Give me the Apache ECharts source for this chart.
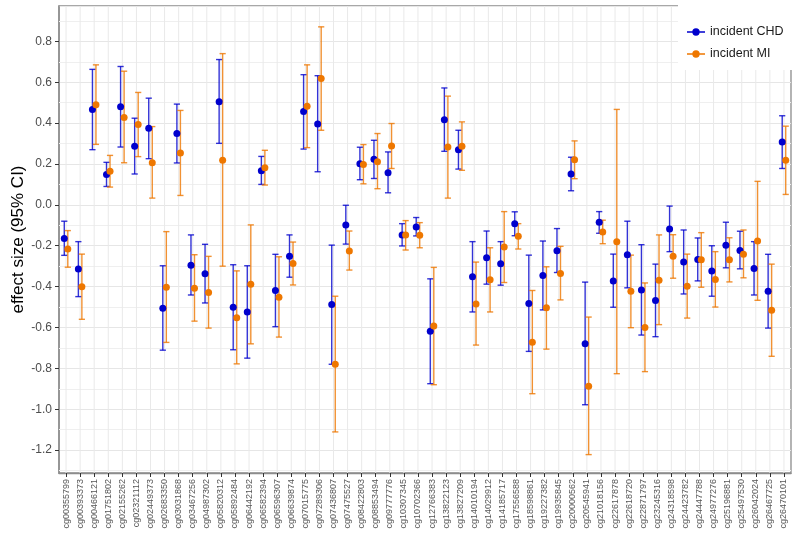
<!DOCTYPE html>
<html>
<head>
<meta charset="utf-8">
<script src="https://cdn.jsdelivr.net/npm/echarts@6/dist/echarts.min.js"></script>
<style>html,body{margin:0;padding:0;background:#fff}#c{width:800px;height:537px}</style>
</head>
<body>
<div id="c"></div>
<script>
const categories = ["cg00355799","cg00393373","cg00466121","cg01751802","cg02155262","cg02321112","cg02449373","cg02683350","cg03031868","cg03467256","cg04987302","cg05820312","cg05892484","cg06442192","cg06582394","cg06596307","cg06639874","cg07015775","cg07289306","cg07436807","cg07475527","cg08422803","cg08853494","cg09777776","cg10307345","cg10702366","cg12766383","cg13822123","cg13827209","cg14010194","cg14029912","cg14185717","cg17556588","cg18598861","cg19227382","cg19935845","cg20000562","cg20545941","cg21018156","cg22617878","cg22618720","cg22871797","cg23245316","cg24318598","cg24423782","cg24447788","cg24977276","cg25196881","cg25497530","cg26042024","cg26467725","cg26470101"];

const chdEst = [-0.165,-0.314,0.467,0.149,0.480,0.287,0.375,-0.506,0.349,-0.295,-0.337,0.505,-0.501,-0.524,0.167,-0.419,-0.251,0.457,0.396,-0.487,-0.098,0.201,0.223,0.157,-0.147,-0.108,-0.619,0.416,0.270,-0.352,-0.259,-0.288,-0.093,-0.483,-0.346,-0.224,0.151,-0.680,-0.085,-0.372,-0.244,-0.416,-0.468,-0.118,-0.280,-0.267,-0.324,-0.198,-0.223,-0.311,-0.423,0.308];
const chdLo  = [-0.247,-0.449,0.270,0.090,0.283,0.151,0.226,-0.711,0.205,-0.441,-0.480,0.301,-0.709,-0.750,0.100,-0.596,-0.354,0.273,0.162,-0.780,-0.192,0.123,0.129,0.059,-0.201,-0.152,-0.875,0.262,0.175,-0.524,-0.388,-0.393,-0.151,-0.717,-0.514,-0.331,0.069,-0.978,-0.139,-0.501,-0.406,-0.637,-0.645,-0.229,-0.436,-0.372,-0.447,-0.308,-0.313,-0.441,-0.603,0.178];
const chdHi  = [-0.080,-0.180,0.663,0.208,0.677,0.424,0.522,-0.298,0.493,-0.147,-0.193,0.711,-0.293,-0.298,0.237,-0.242,-0.147,0.637,0.632,-0.197,-0.002,0.282,0.316,0.259,-0.092,-0.062,-0.362,0.572,0.365,-0.180,-0.128,-0.180,-0.034,-0.246,-0.177,-0.116,0.233,-0.378,-0.033,-0.241,-0.080,-0.195,-0.290,-0.006,-0.123,-0.162,-0.200,-0.085,-0.129,-0.180,-0.242,0.436];

const miEst = [-0.216,-0.401,0.490,0.165,0.428,0.393,0.206,-0.403,0.254,-0.408,-0.429,0.218,-0.552,-0.388,0.182,-0.452,-0.287,0.482,0.618,-0.780,-0.226,0.198,0.211,0.288,-0.147,-0.149,-0.593,0.283,0.287,-0.485,-0.367,-0.206,-0.154,-0.672,-0.503,-0.336,0.221,-0.888,-0.133,-0.180,-0.423,-0.600,-0.369,-0.252,-0.398,-0.269,-0.365,-0.269,-0.242,-0.177,-0.516,0.218];
const miLo  = [-0.305,-0.560,0.296,0.087,0.206,0.236,0.033,-0.673,0.046,-0.569,-0.603,-0.300,-0.778,-0.680,0.097,-0.647,-0.392,0.280,0.365,-1.111,-0.319,0.103,0.079,0.178,-0.221,-0.210,-0.880,0.033,0.169,-0.686,-0.524,-0.380,-0.216,-0.924,-0.706,-0.465,0.128,-1.222,-0.190,-0.826,-0.601,-0.816,-0.586,-0.359,-0.554,-0.403,-0.500,-0.377,-0.357,-0.467,-0.741,0.051];
const miHi  = [-0.126,-0.241,0.685,0.242,0.654,0.550,0.383,-0.131,0.462,-0.244,-0.252,0.740,-0.323,-0.098,0.267,-0.254,-0.182,0.685,0.871,-0.447,-0.128,0.295,0.349,0.398,-0.077,-0.087,-0.306,0.532,0.406,-0.280,-0.210,-0.033,-0.092,-0.419,-0.303,-0.203,0.313,-0.549,-0.075,0.467,-0.246,-0.382,-0.147,-0.146,-0.241,-0.136,-0.229,-0.161,-0.123,0.115,-0.290,0.385];

const yMinorTicks = [-1.3,-1.1,-0.9,-0.7,-0.5,-0.3,-0.1,0.1,0.3,0.5,0.7,0.9];

const CHD = 'incident CHD', MI = 'incident MI';
const BLUE = '#0000CD', ORANGE = '#EE7700';
const FONT = '"Liberation Sans", Arial, sans-serif';

function barRenderer(offsetFrac, color) {
  return function (params, api) {
    const i = api.value(0);
    const bw = api.size([1, 0])[0];
    const top = api.coord([i, api.value(2)]);
    const bot = api.coord([i, api.value(1)]);
    const x = top[0] + bw * offsetFrac;
    const cw = bw * 0.22;
    const st = {stroke: color, lineWidth: 1.4, opacity: 0.8};
    return {type: 'group', children: [
      {type: 'line', shape: {x1: x, y1: top[1], x2: x, y2: bot[1]}, style: st},
      {type: 'line', shape: {x1: x - cw, y1: top[1], x2: x + cw, y2: top[1]}, style: st},
      {type: 'line', shape: {x1: x - cw, y1: bot[1], x2: x + cw, y2: bot[1]}, style: st}
    ]};
  };
}
function pointRenderer(offsetFrac, color) {
  return function (params, api) {
    const i = api.value(0);
    const bw = api.size([1, 0])[0];
    const p = api.coord([i, api.value(1)]);
    return {type: 'circle', shape: {cx: p[0] + bw * offsetFrac, cy: p[1], r: 3.5}, style: {fill: color}};
  };
}
function vGridRenderer(params, api) {
  const cs = params.coordSys;
  const x = api.coord([api.value(0), 0])[0];
  return {type: 'line', shape: {x1: x, y1: cs.y, x2: x, y2: cs.y + cs.height}, style: {stroke: '#e9e9e9', lineWidth: 1}};
}

const chdBars = categories.map((c, i) => [i, chdLo[i], chdHi[i]]);
const miBars = categories.map((c, i) => [i, miLo[i], miHi[i]]);
const chdPts = categories.map((c, i) => [i, chdEst[i]]);
const miPts = categories.map((c, i) => [i, miEst[i]]);
const gridCols = categories.map((c, i) => [i, 0]);

const legendIcon = 'path://M0 4.2 L22 4.2 L22 5.8 L0 5.8 Z M15.5 5 A4.5 4.5 0 1 1 6.5 5 A4.5 4.5 0 1 1 15.5 5 Z';

const chart = echarts.init(document.getElementById('c'), null, {renderer: 'canvas'});
chart.setOption({
  animation: false,
  backgroundColor: '#ffffff',
  textStyle: {fontFamily: FONT},
  grid: {left: 59, right: 9, top: 6, bottom: 64, containLabel: false, outerBoundsMode: 'none',
         show: true, borderColor: '#8c8c8c', borderWidth: 1.3, backgroundColor: 'transparent'},
  legend: {
    left: 678, top: 5, orient: 'vertical',
    padding: [20, 12, 9, 9],
    itemGap: 8, itemWidth: 18, itemHeight: 9,
    backgroundColor: '#ffffff',
    textStyle: {fontFamily: FONT, fontSize: 12.5, color: '#1a1a1a', lineHeight: 14},
    data: [
      {name: CHD, icon: legendIcon, itemStyle: {color: BLUE}},
      {name: MI, icon: legendIcon, itemStyle: {color: ORANGE}}
    ]
  },
  xAxis: {
    type: 'category', data: categories, boundaryGap: true,
    axisLine: {show: true, onZero: false, lineStyle: {color: '#8c8c8c', width: 1.3}},
    axisTick: {show: true, alignWithLabel: true, length: 4, lineStyle: {color: '#333'}},
    axisLabel: {rotate: 90, interval: 0, fontSize: 9, color: '#555', margin: 6, fontFamily: FONT},
    splitLine: {show: false}
  },
  yAxis: {
    type: 'value', min: -1.312, max: 0.973, splitNumber: 11,
    name: 'effect size (95% CI)', nameLocation: 'middle', nameGap: 32, nameMoveOverlap: false,
    nameTextStyle: {fontSize: 17, color: '#000', fontFamily: FONT},
    axisLine: {show: true, lineStyle: {color: '#8c8c8c', width: 1.5}},
    axisTick: {show: true, length: 4, lineStyle: {color: '#333'}},
    axisLabel: {
      fontSize: 12, color: '#4d4d4d', margin: 7, fontFamily: FONT,
      showMinLabel: false, showMaxLabel: false,
      formatter: v => Math.abs(v * 5 - Math.round(v * 5)) < 1e-6 ? v.toFixed(1) : ''
    },
    splitLine: {show: true, lineStyle: {color: '#e6e6e6', width: 1}}
  },
  series: [
    {
      type: 'custom', data: gridCols, renderItem: vGridRenderer, encode: {x: 0, y: 1}, silent: true, z: 1,
      markLine: {
        silent: true, symbol: 'none', z: 1, animation: false,
        label: {show: false},
        lineStyle: {color: '#efefef', width: 1, type: 'solid'},
        data: yMinorTicks.map(v => ({yAxis: v}))
      }
    },
    {type: 'custom', name: CHD, data: chdBars, renderItem: barRenderer(-0.125, BLUE), encode: {x: 0, y: [1, 2]}, z: 3, itemStyle: {color: BLUE}},
    {type: 'custom', name: MI, data: miBars, renderItem: barRenderer(0.125, ORANGE), encode: {x: 0, y: [1, 2]}, z: 3, itemStyle: {color: ORANGE}},
    {type: 'custom', name: CHD, data: chdPts, renderItem: pointRenderer(-0.125, BLUE), encode: {x: 0, y: 1}, z: 4, itemStyle: {color: BLUE}},
    {type: 'custom', name: MI, data: miPts, renderItem: pointRenderer(0.125, ORANGE), encode: {x: 0, y: 1}, z: 4, itemStyle: {color: ORANGE}}
  ]
});
</script>
</body>
</html>
